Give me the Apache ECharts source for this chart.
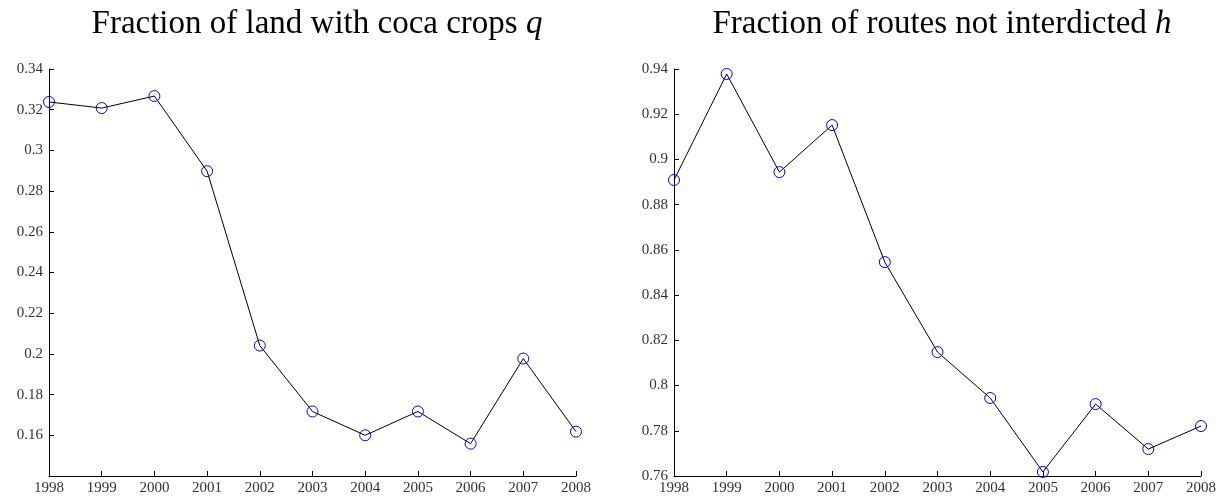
<!DOCTYPE html>
<html><head><meta charset="utf-8">
<script src="https://cdn.jsdelivr.net/npm/echarts@6/dist/echarts.min.js"></script>
<style>html,body{margin:0;padding:0;background:#fff}#c{width:1226px;height:501px}</style>
</head><body><div id="c"></div>
<script>
const years = [1998,1999,2000,2001,2002,2003,2004,2005,2006,2007,2008];
const cocaLand = [0.3238,0.3208,0.3267,0.2898,0.2041,0.1717,0.1600,0.1717,0.1559,0.1977,0.1618];
const routesNotInterdicted = [0.8909,0.9378,0.8944,0.9152,0.8546,0.8148,0.7945,0.7618,0.7918,0.7719,0.7821];
const titleLeft = 'Fraction of land with coca crops ';
const titleRight = 'Fraction of routes not interdicted ';

const FONT = '"Liberation Serif", "DejaVu Serif", serif';
const chart = echarts.init(document.getElementById('c'));
function xAxis(i){
  return {type:'value', gridIndex:i, min:1998, max:2008, interval:1,
    axisLine:{lineStyle:{color:'#000',width:1}},
    axisTick:{inside:true,length:5,lineStyle:{color:'#000'}},
    axisLabel:{color:'#333',fontFamily:FONT,fontSize:15,margin:5,formatter:v=>String(v)},
    splitLine:{show:false}};
}
function yAxis(i,min,max,showMin){
  return {type:'value', gridIndex:i, min:min, max:max, interval:0.02,
    axisLine:{show:true,lineStyle:{color:'#000',width:1}},
    axisTick:{show:true,inside:true,length:5,lineStyle:{color:'#000'}},
    axisLabel:{color:'#333',fontFamily:FONT,fontSize:15,margin:6,showMinLabel:showMin,
      formatter:v=>String(+v.toFixed(2))},
    splitLine:{show:false}};
}
function series(i,vals){
  return {type:'line', xAxisIndex:i, yAxisIndex:i,
    data: years.map((y,k)=>[y,vals[k]]),
    symbol:'circle', symbolSize:11, showAllSymbol:true,
    lineStyle:{color:'#000',width:1},
    itemStyle:{color:'rgba(0,0,0,0)',borderColor:'#0000ff',borderWidth:1},
    emphasis:{disabled:true}, animation:false, z:2};
}
chart.setOption({
  backgroundColor:'#fff',
  animation:false,
  title:[
    {text:titleLeft+'{i|q}', left:312, top:3, textAlign:'center',
     textStyle:{fontFamily:FONT,fontSize:33,fontWeight:'normal',color:'#000',
       rich:{i:{fontFamily:FONT,fontSize:33,fontStyle:'italic',color:'#000'}}}},
    {text:titleRight+'{i|h}', left:937, top:3, textAlign:'center',
     textStyle:{fontFamily:FONT,fontSize:33,fontWeight:'normal',color:'#000',
       rich:{i:{fontFamily:FONT,fontSize:33,fontStyle:'italic',color:'#000'}}}}
  ],
  grid:[
    {left:49, right:650, top:69, bottom:25},
    {left:674, right:25, top:69, bottom:25}
  ],
  xAxis:[xAxis(0), xAxis(1)],
  yAxis:[yAxis(0,0.14,0.34,false), yAxis(1,0.76,0.94,true)],
  series:[series(0,cocaLand), series(1,routesNotInterdicted)]
});
</script></body></html>
